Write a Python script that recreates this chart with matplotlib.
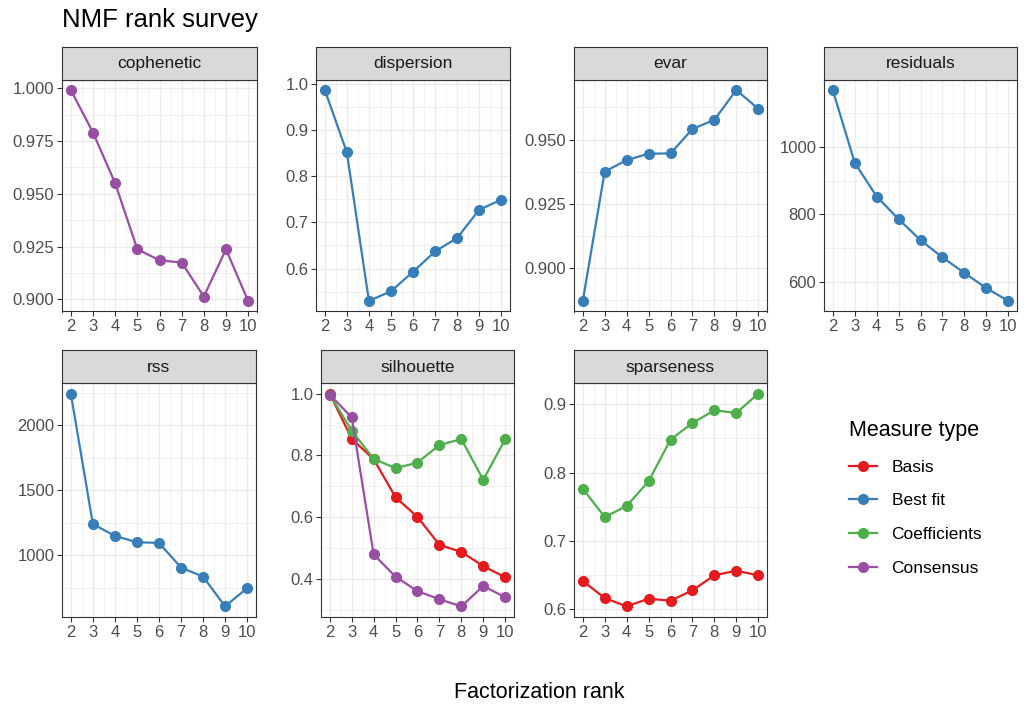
import matplotlib
matplotlib.use("Agg")
import matplotlib.pyplot as plt
from matplotlib.lines import Line2D
from matplotlib.ticker import MultipleLocator, FormatStrFormatter

plt.rcParams['font.family'] = ['Liberation Sans', 'DejaVu Sans']

ranks = [2, 3, 4, 5, 6, 7, 8, 9, 10]

cophenetic_consensus = [0.9992, 0.979, 0.955, 0.9237, 0.9185, 0.9174, 0.9013, 0.9237, 0.8992]
dispersion_fit = [0.986, 0.851, 0.530, 0.551, 0.593, 0.637, 0.666, 0.727, 0.749]
evar_fit = [0.8871, 0.9375, 0.942, 0.9445, 0.9446, 0.9541, 0.9577, 0.9693, 0.962]
residuals_fit = [1168, 953, 853, 786, 724, 673, 627, 582, 544]
rss_fit = [2245, 1240, 1149, 1100, 1095, 905, 835, 606, 747]
silhouette_basis = [1.0, 0.854, 0.788, 0.665, 0.601, 0.511, 0.488, 0.442, 0.406]
silhouette_coef = [0.997, 0.880, 0.789, 0.759, 0.777, 0.834, 0.853, 0.721, 0.853]
silhouette_consensus = [0.997, 0.923, 0.480, 0.408, 0.361, 0.335, 0.312, 0.378, 0.341]
sparseness_basis = [0.6415, 0.6166, 0.6044, 0.6156, 0.6127, 0.6278, 0.6498, 0.6566, 0.6498]
sparseness_coef = [0.7766, 0.735, 0.7512, 0.7873, 0.8483, 0.8727, 0.8912, 0.8873, 0.9156]

measure_types = ['Basis', 'Best fit', 'Coefficients', 'Consensus']
colors = {'Basis': '#E41A1C', 'Best fit': '#377EB8',
          'Coefficients': '#4DAF4A', 'Consensus': '#984EA3'}

# name, series, left/right px, row, tick step, label format
panels = [
    ('cophenetic', [('Consensus', cophenetic_consensus)], 62, 257, 0, 0.025, '%.3f'),
    ('dispersion', [('Best fit', dispersion_fit)], 316, 510, 0, 0.1, '%.1f'),
    ('evar', [('Best fit', evar_fit)], 574, 767, 0, 0.025, '%.3f'),
    ('residuals', [('Best fit', residuals_fit)], 824, 1017, 0, 200, '%d'),
    ('rss', [('Best fit', rss_fit)], 62, 256, 1, 500, '%d'),
    ('silhouette', [('Basis', silhouette_basis), ('Coefficients', silhouette_coef),
                    ('Consensus', silhouette_consensus)], 321, 514, 1, 0.2, '%.1f'),
    ('sparseness', [('Basis', sparseness_basis), ('Coefficients', sparseness_coef)],
     574, 767, 1, 0.1, '%.1f'),
]

W, H = 1024, 711
fig = plt.figure(figsize=(W / 100, H / 100), dpi=100)

# (strip top, panel top, panel bottom) in pixels from the top
rows = [(47, 79.5, 311.5), (350, 383, 617)]
dark = '#333333'

for name, series, x0, x1, r, step, fmt in panels:
    st, pt, pb = rows[r]
    ax = fig.add_axes([x0 / W, 1 - pb / H, (x1 - x0) / W, (pb - pt) / H])
    for kind, vals in series:
        ax.plot(ranks, vals, color=colors[kind], lw=1.6, marker='o', ms=7, zorder=3)
    ax.set_xlim(1.6, 10.4)
    ax.margins(y=0.05)
    ax.xaxis.set_major_locator(MultipleLocator(1))
    ax.xaxis.set_minor_locator(MultipleLocator(0.5))
    ax.yaxis.set_major_locator(MultipleLocator(step))
    ax.yaxis.set_minor_locator(MultipleLocator(step / 2))
    ax.yaxis.set_major_formatter(FormatStrFormatter(fmt))
    ax.grid(which='major', color='#EBEBEB', lw=1.0)
    ax.grid(which='minor', color='#EBEBEB', lw=0.5)
    ax.set_axisbelow(True)
    for s in ax.spines.values():
        s.set_color(dark)
        s.set_linewidth(0.8)
    ax.tick_params(which='major', length=3.5, width=0.8, color=dark,
                   labelsize=12, labelcolor='#4D4D4D', pad=2)
    ax.tick_params(which='minor', length=0)

    sax = fig.add_axes([x0 / W, 1 - pt / H, (x1 - x0) / W, (pt - st) / H])
    sax.set_facecolor('#D9D9D9')
    sax.set_xticks([])
    sax.set_yticks([])
    for s in sax.spines.values():
        s.set_color(dark)
        s.set_linewidth(0.8)
    sax.text(0.5, 0.48, name, ha='center', va='center', fontsize=12.5, color='#1A1A1A',
             transform=sax.transAxes)

fig.text(62 / W, 1 - 20 / H, 'NMF rank survey', fontsize=18.5, va='center', ha='left')
fig.text(539.5 / W, 1 - 693 / H, 'Factorization rank', fontsize=15.5, ha='center', va='center')

handles = [Line2D([], [], color=colors[m], lw=1.6, marker='o', ms=7) for m in measure_types]
fig.legend(handles, measure_types, title='Measure type', loc='upper left',
           bbox_to_anchor=(849 / W, 1 - 420 / H), frameon=False, fontsize=12.5,
           title_fontsize=15.5, handlelength=1.6, labelspacing=1.07, handletextpad=0.85,
           borderpad=0, borderaxespad=0, alignment='left')

fig.savefig('out.png', dpi=100)
